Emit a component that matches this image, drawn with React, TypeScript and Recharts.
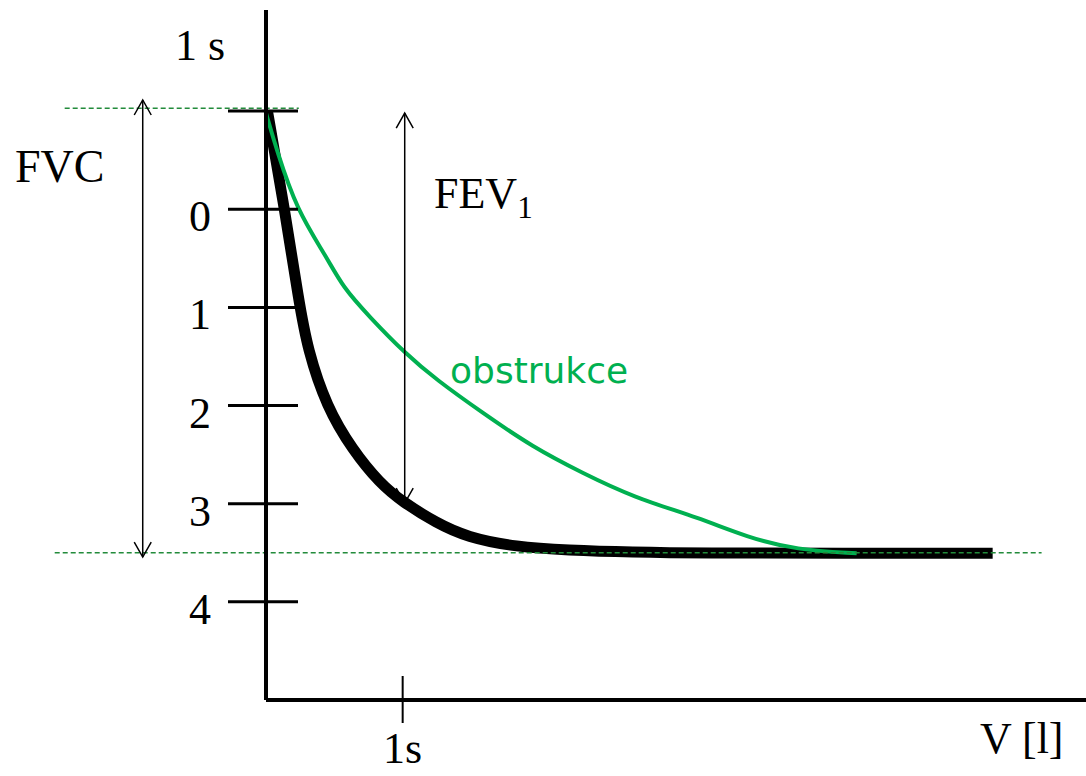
import React from "react"
import { LineChart, Line, XAxis, YAxis, ReferenceLine } from "recharts"

// normalni krivka (cerna)
const normalT = [0.012, 0.137, 0.239, 0.305, 0.444, 0.634, 0.832, 1.0, 1.249, 1.468, 1.834, 2.2, 2.683, 3.173, 4.2, 5.317]
const normalV = [-0.99, 0.008, 0.925, 1.434, 2.015, 2.453, 2.79, 2.983, 3.197, 3.34, 3.442, 3.473, 3.494, 3.504, 3.504, 3.504]

// obstrukce (zelena)
const obstrT = [0, 0.078, 0.225, 0.444, 0.561, 0.759, 1.015, 1.249, 1.586, 1.951, 2.317, 2.683, 3.173, 3.517, 3.883, 4.322]
const obstrV = [-0.98, -0.603, 0.008, 0.487, 0.792, 1.098, 1.465, 1.74, 2.076, 2.423, 2.688, 2.932, 3.146, 3.34, 3.472, 3.504]

const yTicks = [-1, 0, 1, 2, 3, 4]
const yTickLabels = ["", "0", "1", "2", "3", "4"]
const xTicks = [1]
const xTickLabels = ["1s"]

// hladiny FVC a FEV1 sipek
const fvcTop = -1.03
const fvcBottom = 3.5
const fvcArrowT = -0.902
const fvcArrow = [-1.113, 3.544]
const fevArrowT = 1.015
const fevArrow = [-0.98, 2.993]

const normalData = normalT.map((t, i) => ({ t, v: normalV[i] }))
const obstrData = obstrT.map((t, i) => ({ t, v: obstrV[i] }))

const SERIF = "'Liberation Serif', 'Times New Roman', serif"
const DASH_GREEN = "#228b3b"
const GREEN = "#00b050"

function YTick(props: any) {
  const { x, y, payload } = props
  const idx = yTicks.indexOf(payload.value)
  return (
    <g>
      <line x1={x - 38} x2={x + 32} y1={y} y2={y} stroke="#000" strokeWidth={3} />
      <text x={x - 55} y={y + 22} textAnchor="end" fontFamily={SERIF} fontSize={44} fill="#000">
        {yTickLabels[idx]}
      </text>
    </g>
  )
}

function XTick(props: any) {
  const { x, y, payload } = props
  const idx = xTicks.indexOf(payload.value)
  return (
    <g>
      <line x1={x} x2={x} y1={y - 24} y2={y + 23} stroke="#000" strokeWidth={2} />
      <text x={x} y={y + 63} textAnchor="middle" fontFamily={SERIF} fontSize={44} fill="#000">
        {xTickLabels[idx]}
      </text>
    </g>
  )
}

function Arrow(props: any) {
  const { x1, y1, x2, y2 } = props
  const top = Math.min(y1, y2)
  const bot = Math.max(y1, y2)
  return (
    <g stroke="#000" strokeWidth={1.5} fill="none">
      <line x1={x1} x2={x2} y1={top} y2={bot} />
      <polyline points={`${x1 - 8.5},${top + 15} ${x1},${top} ${x1 + 8.5},${top + 15}`} />
      <polyline points={`${x1 - 8.5},${bot - 15} ${x1},${bot} ${x1 + 8.5},${bot - 15}`} />
    </g>
  )
}

export default function App() {
  return (
    <div style={{ position: "absolute", left: 0, top: 0, width: 1086, height: 776, background: "#fff" }}>
      <LineChart width={1086} height={776} margin={{ top: 10, right: 0, bottom: 0, left: 0 }}>
        <XAxis
          type="number"
          dataKey="t"
          domain={[0, 6]}
          ticks={xTicks}
          height={76}
          tickSize={0}
          tickMargin={0}
          tickLine={false}
          tick={<XTick />}
          axisLine={{ stroke: "#000", strokeWidth: 4 }}
          allowDataOverflow
        />
        <YAxis
          type="number"
          dataKey="v"
          domain={[-2.03, 5]}
          reversed
          ticks={yTicks}
          interval={0}
          width={266}
          tickSize={0}
          tickMargin={0}
          tickLine={false}
          tick={<YTick />}
          axisLine={{ stroke: "#000", strokeWidth: 4 }}
          allowDataOverflow
        />
        <Line
          data={normalData}
          dataKey="v"
          type="basis"
          stroke="#000"
          strokeWidth={11}
          dot={false}
          isAnimationActive={false}
        />
        <Line
          data={obstrData}
          dataKey="v"
          type="basis"
          stroke={GREEN}
          strokeWidth={4}
          dot={false}
          isAnimationActive={false}
        />
        <ReferenceLine
          segment={[{ x: -1.473, y: fvcTop }, { x: 0.24, y: fvcTop }]}
          stroke={DASH_GREEN}
          strokeWidth={1.5}
          strokeDasharray="5 3"
          ifOverflow="visible"
        />
        <ReferenceLine
          segment={[{ x: -1.546, y: fvcBottom }, { x: 5.675, y: fvcBottom }]}
          stroke={DASH_GREEN}
          strokeWidth={1.5}
          strokeDasharray="5 3"
          ifOverflow="visible"
        />
        <ReferenceLine
          segment={[{ x: fvcArrowT, y: fvcArrow[0] }, { x: fvcArrowT, y: fvcArrow[1] }]}
          ifOverflow="visible"
          shape={<Arrow />}
        />
        <ReferenceLine
          segment={[{ x: fevArrowT, y: fevArrow[0] }, { x: fevArrowT, y: fevArrow[1] }]}
          ifOverflow="visible"
          shape={<Arrow />}
        />
      </LineChart>
      <svg width={1086} height={776} style={{ position: "absolute", left: 0, top: 0, pointerEvents: "none" }}>
        <text x={175} y={60} fontFamily={SERIF} fontSize={44}>1 s</text>
        <text x={15} y={182} fontFamily={SERIF} fontSize={46}>FVC</text>
        <text x={434} y={208} fontFamily={SERIF} fontSize={44}>
          FEV<tspan fontSize={31} dy={10}>1</tspan>
        </text>
        <text x={450} y={383} fontFamily="'DejaVu Sans', Verdana, sans-serif" fontSize={36} fill={GREEN}>obstrukce</text>
        <text x={980} y={753} fontFamily={SERIF} fontSize={44}>V [l]</text>
      </svg>
    </div>
  )
}
